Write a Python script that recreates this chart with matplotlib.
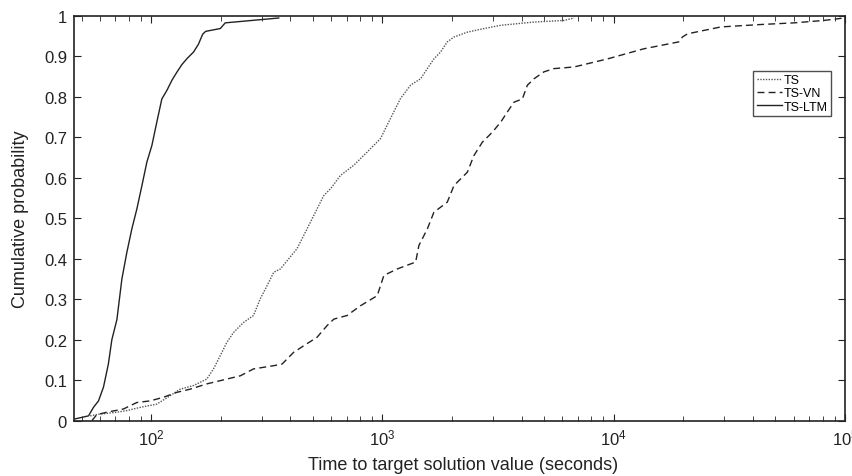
import matplotlib
matplotlib.use("Agg")
import matplotlib.pyplot as plt
from matplotlib.ticker import LogLocator, FixedLocator

plt.rcParams['font.family'] = ['Liberation Sans', 'DejaVu Sans']
plt.rcParams['mathtext.fontset'] = 'custom'
plt.rcParams['mathtext.rm'] = 'Liberation Sans'

# values (time in seconds, cumulative probability)
ts_x = [54.5, 59.2, 71.1, 78.5, 89.6, 105.8, 120.9, 133.5, 152.5, 174, 186, 199,
        212.6, 227, 251, 277, 296, 312, 339, 362, 393, 427, 472, 521, 557, 596,
        658, 751, 859, 980, 1047, 1119, 1196, 1322, 1462, 1563, 1668, 1783, 1906,
        2037, 2327, 2748, 3247, 4523, 6095, 6733]
ts_y = [0.012, 0.016, 0.021, 0.025, 0.033, 0.041, 0.062, 0.078, 0.087, 0.103,
        0.128, 0.161, 0.194, 0.218, 0.243, 0.26, 0.301, 0.326, 0.367, 0.375, 0.40,
        0.425, 0.474, 0.523, 0.556, 0.573, 0.606, 0.631, 0.664, 0.697, 0.73, 0.763,
        0.796, 0.829, 0.845, 0.870, 0.894, 0.911, 0.936, 0.948, 0.96, 0.969, 0.977,
        0.985, 0.989, 0.995]

vn_x = [55.4, 58.2, 64.3, 75.9, 86.7, 99, 113, 129, 147.5, 174, 199, 243, 277,
        339, 368, 413, 456, 521, 576, 616, 703, 803, 949, 1014, 1159, 1391, 1437,
        1563, 1668, 1906, 2037, 2327, 2484, 2701, 2986, 3247, 3467, 3702, 4025,
        4230, 4523, 4990, 5518, 6733, 9400, 13500, 19100, 19800, 20850, 29060,
        43500, 60200, 81000, 99000]
vn_y = [0, 0.015, 0.021, 0.029, 0.045, 0.049, 0.058, 0.07, 0.078, 0.091, 0.099,
        0.111, 0.128, 0.136, 0.14, 0.169, 0.185, 0.206, 0.235, 0.251, 0.26, 0.284,
        0.309, 0.359, 0.375, 0.392, 0.433, 0.474, 0.515, 0.54, 0.581, 0.614, 0.655,
        0.688, 0.713, 0.738, 0.763, 0.787, 0.795, 0.829, 0.845, 0.862, 0.87, 0.874,
        0.894, 0.919, 0.936, 0.948, 0.956, 0.973, 0.979, 0.983, 0.989, 0.995]

ltm_x = [46.5, 53.6, 56.3, 59.2, 62.2, 65.3, 67.6, 71.1, 74.7, 78.5, 82.5, 86.7,
         91.2, 95.8, 100.7, 105.8, 111.2, 116.9, 122.9, 129.1, 135.8, 143, 152.5,
         160, 167, 172, 199, 209, 356]
ltm_y = [0.004, 0.012, 0.033, 0.049, 0.083, 0.14, 0.20, 0.25, 0.35, 0.416, 0.474,
         0.523, 0.581, 0.639, 0.68, 0.738, 0.795, 0.816, 0.841, 0.861, 0.88, 0.895,
         0.911, 0.93, 0.955, 0.962, 0.969, 0.983, 0.995]

y_ticks = [0, 0.1, 0.2, 0.3, 0.4, 0.5, 0.6, 0.7, 0.8, 0.9, 1]
y_labels = ['0', '0.1', '0.2', '0.3', '0.4', '0.5', '0.6', '0.7', '0.8', '0.9', '1']

fig = plt.figure(figsize=(8.52, 4.77), dpi=100)
ax = fig.add_axes([0.0869, 0.1159, 0.905, 0.8485])

ax.plot(ts_x, ts_y, color='#555555', lw=1.0, linestyle=(0, (1, 1)), label='TS')
ax.plot(vn_x, vn_y, color='#222222', lw=1.0, linestyle=(0, (5, 3)), label='TS-VN')
ax.plot(ltm_x, ltm_y, color='#222222', lw=1.0, linestyle='-', label='TS-LTM')

ax.set_xscale('log')
ax.set_xlim(46.4, 1e5)
ax.set_ylim(0, 1)
ax.xaxis.set_major_locator(LogLocator(base=10, numticks=10))
ax.xaxis.set_minor_locator(LogLocator(base=10, subs=range(2, 10), numticks=20))
ax.yaxis.set_major_locator(FixedLocator(y_ticks))
ax.set_yticklabels(y_labels)

ax.tick_params(axis='both', which='both', direction='in', top=True, right=True,
               labelsize=12, colors='#222222')
ax.tick_params(axis='y', which='major', length=5, pad=5)
ax.tick_params(axis='x', which='major', length=5, pad=5)
ax.tick_params(axis='x', which='minor', length=3.5)
for s in ax.spines.values():
    s.set_linewidth(1.2)
    s.set_color('#222222')

ax.set_xlabel('Time to target solution value (seconds)', fontsize=13, color='#222222')
ax.set_ylabel('Cumulative probability', fontsize=13, color='#222222')
ax.xaxis.set_label_coords(0.504, -0.088)
ax.yaxis.set_label_coords(-0.059, 0.5)

leg = ax.legend(loc='upper right', bbox_to_anchor=(0.982, 0.864), fontsize=9,
                frameon=True, fancybox=False, handlelength=2.0, handletextpad=0.2,
                borderpad=0.25, labelspacing=0.1, borderaxespad=0)
leg.get_frame().set_edgecolor('#222222')
leg.get_frame().set_linewidth(1.0)

fig.savefig('out.png', dpi=100)
